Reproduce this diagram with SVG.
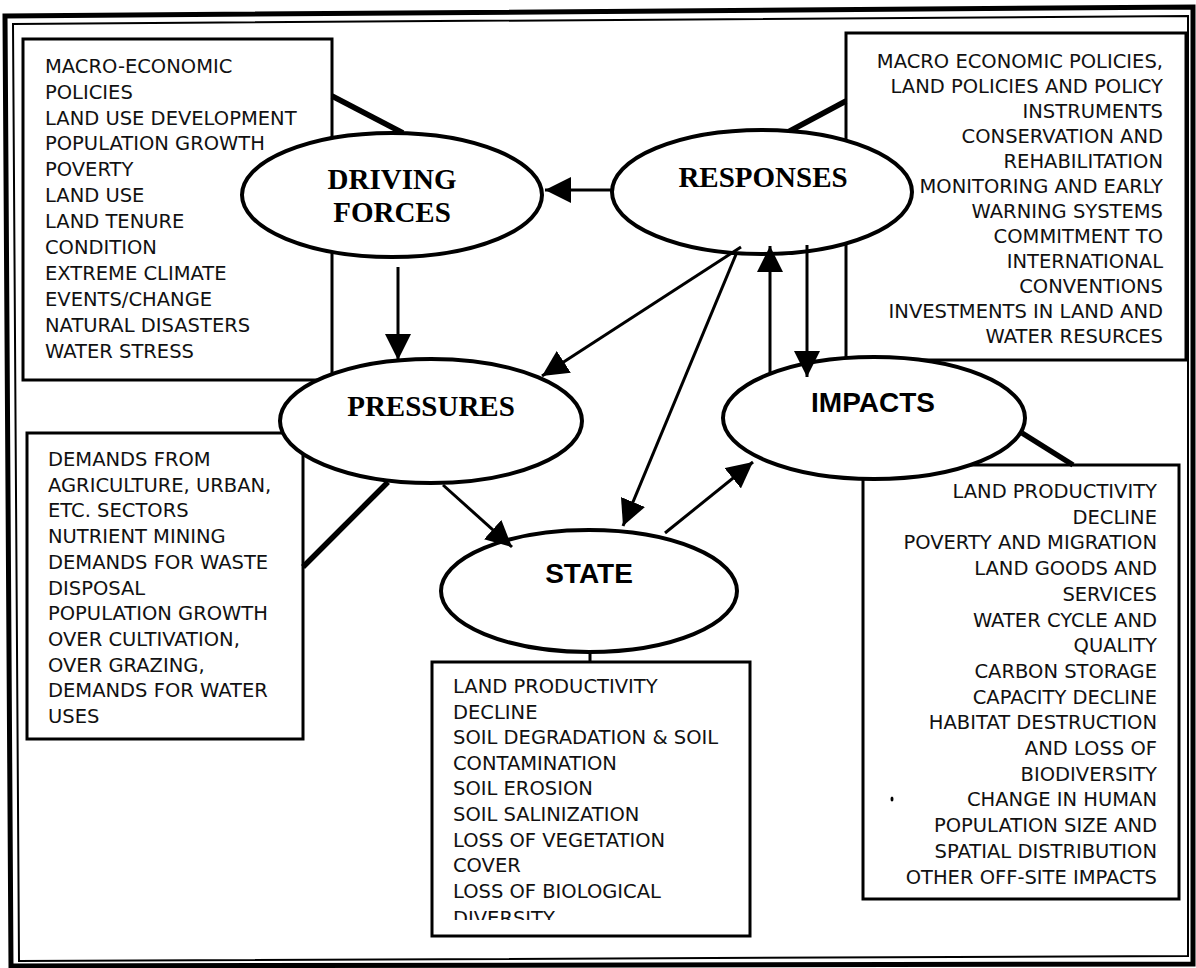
<svg xmlns="http://www.w3.org/2000/svg" width="1196" height="968" viewBox="0 0 1196 968">
<style>
.box{fill:#fff;stroke:#000;stroke-width:3}
.ell{fill:#fff;stroke:#000;stroke-width:4}
.t{font-family:"DejaVu Sans","Verdana",sans-serif;font-size:19.5px;fill:#111}
.r{text-anchor:end}
.h1{font-family:"Liberation Serif","Times New Roman",serif;font-weight:bold;font-size:29px;text-anchor:middle;fill:#000}
.h2{font-family:"Liberation Sans",Arial,sans-serif;font-weight:bold;font-size:28px;text-anchor:middle;fill:#000}
.thick{stroke:#000;stroke-width:5.5;fill:none}
.arr{stroke:#000;stroke-width:3;fill:none;marker-end:url(#ah)}
</style>
<defs>
<marker id="ah" markerUnits="userSpaceOnUse" markerWidth="26" markerHeight="26" refX="26" refY="13" orient="auto">
<path d="M0,0 L26,13 L0,26 Z" fill="#000"/>
</marker>
<clipPath id="stclip"><rect x="432" y="662" width="318" height="258"/></clipPath>
</defs>
<rect width="1196" height="968" fill="#fff"/>
<g id="frame">
<path d="M5,16 L1193,7 L1193,964 L11,966 Z" fill="none" stroke="#000" stroke-width="5"/>
<path d="M13,24 L1188,16 L1188,956 L19,961 Z" fill="none" stroke="#000" stroke-width="2"/>
</g>
<g id="box-driving">
<rect class="box" x="23" y="39" width="309" height="341"/>
<text class="t" x="45" y="72.7">MACRO-ECONOMIC</text>
<text class="t" x="45" y="98.6">POLICIES</text>
<text class="t" x="45" y="124.5">LAND USE DEVELOPMENT</text>
<text class="t" x="45" y="150.4">POPULATION GROWTH</text>
<text class="t" x="45" y="176.3">POVERTY</text>
<text class="t" x="45" y="202.2">LAND USE</text>
<text class="t" x="45" y="228.1">LAND TENURE</text>
<text class="t" x="45" y="254">CONDITION</text>
<text class="t" x="45" y="279.9">EXTREME CLIMATE</text>
<text class="t" x="45" y="305.8">EVENTS/CHANGE</text>
<text class="t" x="45" y="331.7">NATURAL DISASTERS</text>
<text class="t" x="45" y="357.6">WATER STRESS</text>
</g>
<g id="box-responses">
<rect class="box" x="846" y="33" width="340" height="327"/>
<text class="t r" x="1163" y="67.5">MACRO ECONOMIC POLICIES,</text>
<text class="t r" x="1163" y="92.5">LAND POLICIES AND POLICY</text>
<text class="t r" x="1163" y="117.5">INSTRUMENTS</text>
<text class="t r" x="1163" y="142.5">CONSERVATION AND</text>
<text class="t r" x="1163" y="167.5">REHABILITATION</text>
<text class="t r" x="1163" y="192.5">MONITORING AND EARLY</text>
<text class="t r" x="1163" y="217.5">WARNING SYSTEMS</text>
<text class="t r" x="1163" y="242.5">COMMITMENT TO</text>
<text class="t r" x="1163" y="267.5">INTERNATIONAL</text>
<text class="t r" x="1163" y="292.5">CONVENTIONS</text>
<text class="t r" x="1163" y="317.5">INVESTMENTS IN LAND AND</text>
<text class="t r" x="1163" y="342.5">WATER RESURCES</text>
</g>
<g id="box-pressures">
<rect class="box" x="27" y="433" width="276" height="306"/>
<text class="t" x="48" y="466">DEMANDS FROM</text>
<text class="t" x="48" y="491.7">AGRICULTURE, URBAN,</text>
<text class="t" x="48" y="517.4">ETC. SECTORS</text>
<text class="t" x="48" y="543.1">NUTRIENT MINING</text>
<text class="t" x="48" y="568.8">DEMANDS FOR WASTE</text>
<text class="t" x="48" y="594.5">DISPOSAL</text>
<text class="t" x="48" y="620.2">POPULATION GROWTH</text>
<text class="t" x="48" y="645.9">OVER CULTIVATION,</text>
<text class="t" x="48" y="671.6">OVER GRAZING,</text>
<text class="t" x="48" y="697.3">DEMANDS FOR WATER</text>
<text class="t" x="48" y="723">USES</text>
</g>
<g id="box-state">
<rect class="box" x="432" y="662" width="318" height="274"/>
<g clip-path="url(#stclip)">
<text class="t" x="453" y="693">LAND PRODUCTIVITY</text>
<text class="t" x="453" y="718.6">DECLINE</text>
<text class="t" x="453" y="744.2">SOIL DEGRADATION &amp; SOIL</text>
<text class="t" x="453" y="769.8">CONTAMINATION</text>
<text class="t" x="453" y="795.4">SOIL EROSION</text>
<text class="t" x="453" y="821">SOIL SALINIZATION</text>
<text class="t" x="453" y="846.6">LOSS OF VEGETATION</text>
<text class="t" x="453" y="872.2">COVER</text>
<text class="t" x="453" y="897.8">LOSS OF BIOLOGICAL</text>
<text class="t" x="453" y="925">DIVERSITY</text>
</g>
</g>
<g id="box-impacts">
<rect class="box" x="863" y="465" width="316" height="434"/>
<text class="t r" x="1157" y="498">LAND PRODUCTIVITY</text>
<text class="t r" x="1157" y="523.7">DECLINE</text>
<text class="t r" x="1157" y="549.4">POVERTY AND MIGRATION</text>
<text class="t r" x="1157" y="575.1">LAND GOODS AND</text>
<text class="t r" x="1157" y="600.8">SERVICES</text>
<text class="t r" x="1157" y="626.5">WATER CYCLE AND</text>
<text class="t r" x="1157" y="652.2">QUALITY</text>
<text class="t r" x="1157" y="677.9">CARBON STORAGE</text>
<text class="t r" x="1157" y="703.6">CAPACITY DECLINE</text>
<text class="t r" x="1157" y="729.3">HABITAT DESTRUCTION</text>
<text class="t r" x="1157" y="755">AND LOSS OF</text>
<text class="t r" x="1157" y="780.7">BIODIVERSITY</text>
<text class="t r" x="1157" y="806.4">CHANGE IN HUMAN</text>
<text class="t r" x="1157" y="832.1">POPULATION SIZE AND</text>
<text class="t r" x="1157" y="857.8">SPATIAL DISTRIBUTION</text>
<text class="t r" x="1157" y="883.5">OTHER OFF-SITE IMPACTS</text>
<ellipse cx="892" cy="799" rx="1.5" ry="2.5" fill="#000"/>
</g>
<g id="box-links">
<line class="thick" x1="332" y1="96" x2="403" y2="133"/>
<line class="thick" x1="846" y1="101" x2="788" y2="132"/>
<line class="thick" x1="303" y1="567" x2="388" y2="482"/>
<line class="thick" x1="1022" y1="433" x2="1073" y2="465"/>
<line stroke="#000" stroke-width="3" x1="590" y1="652" x2="590" y2="662"/>
</g>
<g id="node-driving">
<ellipse class="ell" cx="392" cy="195" rx="150" ry="62"/>
<text class="h1" x="392" y="189">DRIVING</text>
<text class="h1" x="392" y="222">FORCES</text>
</g>
<g id="node-responses">
<ellipse class="ell" cx="762" cy="192" rx="150" ry="62"/>
<text class="h1" x="763" y="187">RESPONSES</text>
</g>
<g id="node-pressures">
<ellipse class="ell" cx="431" cy="421" rx="151" ry="62"/>
<text class="h1" x="431" y="416">PRESSURES</text>
</g>
<g id="node-state">
<ellipse class="ell" cx="589" cy="591" rx="148" ry="61"/>
<text class="h2" x="589" y="583">STATE</text>
</g>
<g id="node-impacts">
<ellipse class="ell" cx="874" cy="418" rx="151" ry="61"/>
<text class="h2" x="873" y="412">IMPACTS</text>
</g>
<g id="connectors">
<line class="arr" x1="614" y1="190" x2="545" y2="190"/>
<line class="arr" x1="398" y1="267" x2="398" y2="360"/>
<line class="arr" x1="741" y1="247" x2="542" y2="376"/>
<line class="arr" x1="737" y1="252" x2="623" y2="526"/>
<line class="arr" x1="443" y1="485" x2="512" y2="547"/>
<line class="arr" x1="665" y1="533" x2="753" y2="462"/>
<line class="arr" x1="770" y1="374" x2="770" y2="246"/>
<line class="arr" x1="807" y1="245" x2="807" y2="377"/>
</g>
</svg>
